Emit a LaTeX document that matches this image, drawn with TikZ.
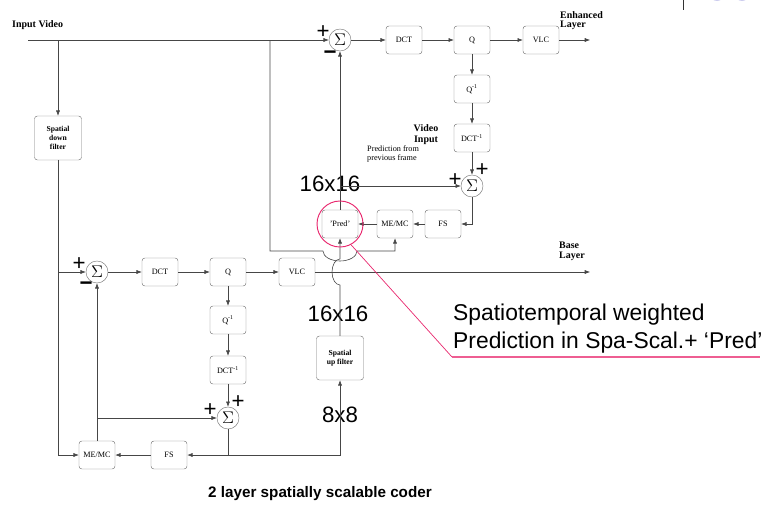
\documentclass[tikz,border=0pt]{standalone}
\usepackage{fontspec}
\setmainfont{Liberation Serif}
\newfontfamily\sansf{Liberation Sans}
\usetikzlibrary{arrows.meta}
\definecolor{ringpink}{RGB}{232,40,110}
\definecolor{linegray}{RGB}{70,70,70}
\definecolor{boxgray}{RGB}{120,120,120}
\definecolor{lav}{RGB}{205,205,238}

\begin{document}
\begin{tikzpicture}[x=0.03cm, y=-0.03cm,
  blk/.style={draw=boxgray, rounded corners=2.5pt, minimum width=1.08cm, minimum height=0.84cm, inner sep=1pt, font=\fontsize{7}{8}\selectfont},
  filt/.style={blk, minimum width=1.41cm, minimum height=1.32cm, align=center, font=\bfseries\fontsize{6.5}{8}\selectfont},
  sum/.style={circle, draw=boxgray, minimum size=0.66cm, inner sep=0pt, font=\fontsize{14}{14}\selectfont},
  sgn/.style={inner sep=0pt, font=\sansf\fontsize{19}{19}\selectfont},
  lbl/.style={inner sep=0pt, align=left, font=\bfseries\fontsize{8.5}{8}\selectfont},
  big/.style={inner sep=0pt, font=\sansf\fontsize{19}{19}\selectfont},
  arr/.style={draw=linegray, line width=0.5pt, -{Latex[length=4.5pt,width=3.5pt]}},
  wire/.style={draw=linegray, line width=0.5pt}]
\useasboundingbox (0,0) rectangle (765,504);

% Enhanced layer
\node[sum] (sumE) at (340,40) {$\Sigma$};
\node[blk] (dcte) at (404,40) {DCT};
\node[blk] (qe) at (472,40) {Q};
\node[blk] (vlce) at (541,40) {VLC};
\node[blk] (qie) at (472,89) {Q\textsuperscript{-1}};
\node[blk] (dctie) at (472,138) {DCT\textsuperscript{-1}};
\node[sum] (sum2) at (472,186) {$\Sigma$};
\node[blk] (fse) at (443,224) {FS};
\node[blk] (mee) at (395,224) {ME/MC};
\node[blk] (pred) at (340,224) {'Pred'};

% Base layer
\node[filt] (downf) at (58,138) {Spatial\\down\\filter};
\node[sum] (sumB) at (97,272) {$\Sigma$};
\node[blk] (dctb) at (160,272) {DCT};
\node[blk] (qb) at (228,272) {Q};
\node[blk] (vlcb) at (297,272) {VLC};
\node[blk] (qib) at (228,320) {Q\textsuperscript{-1}};
\node[blk] (dctib) at (228,370) {DCT\textsuperscript{-1}};
\node[sum] (sum3) at (228,418) {$\Sigma$};
\node[blk] (fsb) at (169,455) {FS};
\node[blk] (meb) at (97,455) {ME/MC};
\node[filt] (upf) at (340,358) {Spatial\\up filter};

% Signs at the adders
\node[sgn] (pE) at (323,32) {+};
\node[sgn, font=\sansf\bfseries\fontsize{19}{19}\selectfont] (mE) at (330,55) {−};
\node[sgn] (p2a) at (455,180) {+};
\node[sgn] (p2b) at (482,170) {+};
\node[sgn] (pB) at (79,264) {+};
\node[sgn, font=\sansf\bfseries\fontsize{19}{19}\selectfont] (mB) at (86,286) {−};
\node[sgn] (p3a) at (210,410) {+};
\node[sgn] (p3b) at (238,402) {+};

% Labels
\node[lbl, anchor=base west] (invid) at (12,27) {Input Video};
\node[lbl, anchor=north west] (enhl) at (560,11) {Enhanced\\Layer};
\node[lbl, anchor=north west] (basel) at (559,242) {Base\\Layer};
\node[lbl, align=center, anchor=north, font=\bfseries\fontsize{8.5}{9.5}\selectfont] (vidin) at (426,124) {Video\\Input};
\node[inner sep=0pt, align=left, anchor=north west, font=\fontsize{7}{8}\selectfont] (prevf) at (367,145) {Prediction from\\previous frame};
\node[big] (sz1) at (330,184) {16x16};
\node[big] (sz2) at (338,314) {16x16};
\node[big] (sz3) at (340,415) {8x8};
\node[inner sep=0pt, anchor=base, font=\sansf\bfseries\fontsize{13}{13}\selectfont] (title) at (320,497) {2 layer spatially scalable coder};

% Free ends and taps
\coordinate (vin) at (28,40);
\coordinate (tapM) at (270,40);
\coordinate (hopL) at (323,251);
\coordinate (hopB) at (340,285);
\coordinate (tapP) at (340,186);
\coordinate (eout) at (590,40);
\coordinate (bout) at (590,272);

% Enhanced layer connectors
\draw[arr] (vin) -- (sumE.west);
\draw[arr] (sumE) -- (dcte);
\draw[arr] (dcte) -- (qe);
\draw[arr] (qe) -- (vlce);
\draw[arr] (vlce) -- (eout);
\draw[arr] (qe) -- (qie);
\draw[arr] (qie) -- (dctie);
\draw[arr] (dctie) -- (sum2);
\draw[arr] (sum2.south) |- (fse.east);
\draw[arr] (fse) -- (mee);
\draw[arr] (mee) -- (pred);
\draw[arr] (pred.north) -- (sumE.south);
\draw[arr] (tapP) -- (sum2.west);
\draw[arr] (tapM) |- (hopL) arc[start angle=180, end angle=360, x radius=0.51cm, y radius=0.3cm] -| (mee.south);

% Base layer connectors
\draw[arr] (vin -| downf.north) -- (downf.north);
\draw[arr] (downf.south) |- (meb.west);
\draw[arr] (sumB.west -| downf.south) -- (sumB.west);
\draw[arr] (sumB) -- (dctb);
\draw[arr] (dctb) -- (qb);
\draw[arr] (qb) -- (vlcb);
\draw[arr] (vlcb) -- (bout);
\draw[arr] (qb) -- (qib);
\draw[arr] (qib) -- (dctib);
\draw[arr] (dctib) -- (sum3);
\draw[arr] (meb.north) -- (sumB.south);
\draw[arr] (meb.north |- sum3.west) -- (sum3.west);
\draw[arr] (sum3.south) |- (fsb.east);
\draw[arr] (fsb) -- (meb);
\draw[arr] (sum3.south |- fsb.east) -| (upf.south);
\draw[arr] (upf.north) -- (hopB) arc[start angle=270, end angle=90, x radius=0.24cm, y radius=0.39cm] -- (pred.south);

% Callout
\node[circle, draw=ringpink, line width=0.8pt, minimum size=1.38cm] (ring) at (pred) {};
\coordinate (cal) at (452,357);
\coordinate (calend) at (760,357);
\draw[ringpink, line width=0.6pt] (ring.-62) -- (cal);
\draw[ringpink!75, line width=1.2pt] (cal) -- (calend);
\node[inner sep=0pt, align=left, anchor=north west, font=\sansf\fontsize{19.5}{24}\selectfont] (note) at (453,304) {Spatiotemporal weighted\\Prediction in Spa-Scal.+ ‘Pred’};

% Corner remnants
\draw[black!80, line width=0.6pt] (683,0) -- (683,10);
\fill[lav] (717,-6) circle[radius=0.21cm];
\fill[lav] (742,-6) circle[radius=0.21cm];
\end{tikzpicture}
\end{document}
